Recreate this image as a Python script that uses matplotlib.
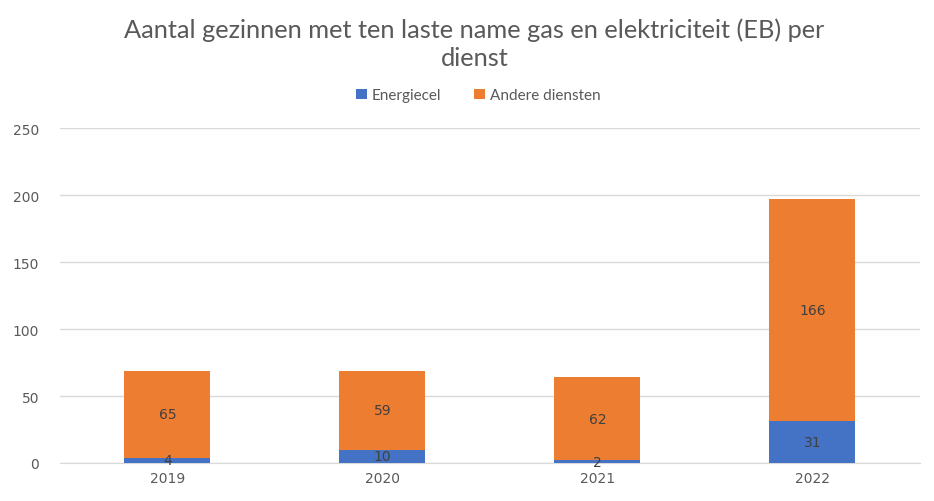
import matplotlib
matplotlib.use("Agg")
import matplotlib.pyplot as plt
import numpy as np

years = ["2019", "2020", "2021", "2022"]
energiecel = [4, 10, 2, 31]
andere = [65, 59, 62, 166]

blue = "#4472C4"
orange = "#ED7D31"

fig = plt.figure(figsize=(9.34, 5.02), dpi=100)
ax = fig.add_axes([0.0642, 0.0757, 0.9208, 0.6673])
x = np.arange(len(years))
w = 0.4
b1 = ax.bar(x, energiecel, w, color=blue, label="Energiecel", zorder=3)
b2 = ax.bar(x, andere, w, bottom=energiecel, color=orange, label="Andere diensten", zorder=3)

for i in range(len(years)):
    ax.text(x[i], energiecel[i] / 2, str(energiecel[i]), ha="center", va="center",
            fontsize=10, color="#404040", zorder=4)
    ax.text(x[i], energiecel[i] + andere[i] / 2, str(andere[i]), ha="center", va="center",
            fontsize=10, color="#404040", zorder=4)

ax.set_xlim(-0.5, 3.5)
ax.set_ylim(0, 250)
ax.set_yticks(range(0, 251, 50))
ax.set_xticks(x)
ax.set_xticklabels(years)
ax.grid(axis="y", color="#D9D9D9", linewidth=1, zorder=0)
for s in ["top", "right", "left"]:
    ax.spines[s].set_visible(False)
ax.spines["bottom"].set_color("#D9D9D9")
ax.tick_params(axis="both", length=0, labelsize=10, colors="#595959")
ax.tick_params(axis="y", pad=15)
ax.tick_params(axis="x", pad=6)

fig.text(0.508, 0.912, "Aantal gezinnen met ten laste name gas en elektriciteit (EB) per\ndienst",
         ha="center", va="center", fontsize=18.3, color="#595959", family="Lato",
         linespacing=1.25)

fig.legend(handles=[b1, b2], loc="center", bbox_to_anchor=(0.512, 0.808), ncol=2,
           frameon=False, handlelength=0.7, handleheight=0.7,
           handletextpad=0.3, columnspacing=2.2, labelcolor="#595959",
           prop={"family": "Lato", "size": 11})

fig.savefig("out.png", dpi=100)
